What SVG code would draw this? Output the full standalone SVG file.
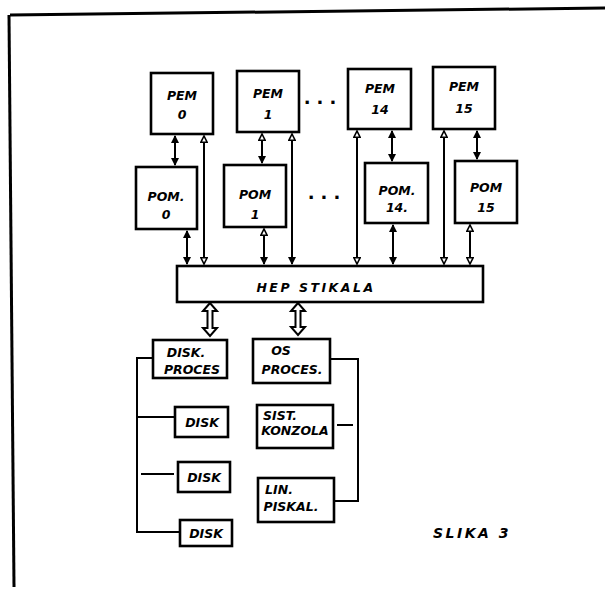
<svg xmlns="http://www.w3.org/2000/svg" width="609" height="591" viewBox="0 0 609 591">
<style>
.bx{fill:#fff;stroke:#000;stroke-width:2.6}
.ln{fill:none;stroke:#000;stroke-width:2}
.fr{fill:none;stroke:#000;stroke-width:3}
.t{font-family:"DejaVu Sans",sans-serif;font-weight:bold;font-style:italic;font-size:12.5px;fill:#000;text-anchor:middle}
.tb{font-family:"DejaVu Sans",sans-serif;font-weight:bold;font-style:italic;font-size:12.5px;fill:#000;text-anchor:middle;letter-spacing:2.5px}
.dt{font-family:"DejaVu Sans",sans-serif;font-weight:bold;font-size:18px;fill:#000;text-anchor:middle;letter-spacing:6px}
.ha{fill:#fff;stroke:#000;stroke-width:2}
</style>
<defs>
<marker id="f" viewBox="0 0 8 8" refX="7" refY="4" markerWidth="4" markerHeight="4" orient="auto-start-reverse" markerUnits="strokeWidth"><path d="M0,0L8,4L0,8z" fill="#000"/></marker>
<marker id="o" viewBox="0 0 10 10" refX="9" refY="5" markerWidth="4" markerHeight="4" orient="auto-start-reverse" markerUnits="strokeWidth"><path d="M1,1L9,5L1,9z" fill="#fff" stroke="#000" stroke-width="2"/></marker>
</defs>
<g id="frame">
<path class="fr" d="M10,15L605,8"/>
<path class="fr" d="M9,15L14,587"/>
</g>
<g id="connectors">
<path class="ln" d="M175,136V165" marker-start="url(#f)" marker-end="url(#f)"/>
<path class="ln" d="M204,136V264" marker-start="url(#o)" marker-end="url(#o)"/>
<path class="ln" d="M187,231V264" marker-start="url(#f)" marker-end="url(#f)"/>
<path class="ln" d="M262,134V163" marker-start="url(#o)" marker-end="url(#f)"/>
<path class="ln" d="M292,134V264" marker-start="url(#o)" marker-end="url(#f)"/>
<path class="ln" d="M264,229V264" marker-start="url(#o)" marker-end="url(#f)"/>
<path class="ln" d="M357,131V264" marker-start="url(#o)" marker-end="url(#o)"/>
<path class="ln" d="M392,131V161" marker-start="url(#f)" marker-end="url(#f)"/>
<path class="ln" d="M393,225V264" marker-start="url(#f)" marker-end="url(#f)"/>
<path class="ln" d="M444,131V264" marker-start="url(#o)" marker-end="url(#o)"/>
<path class="ln" d="M477,131V159" marker-start="url(#f)" marker-end="url(#f)"/>
<path class="ln" d="M470,225V264" marker-start="url(#o)" marker-end="url(#o)"/>
<path class="ha" d="M210,303L203,311H207.5V328H203L210,336L217,328H212.5V311H217Z"/>
<path class="ha" d="M298,303L291,311H295.5V327H291L298,335L305,327H300.5V311H305Z"/>
<path class="ln" d="M153,358H137V532H180"/>
<path class="ln" d="M137,417H175"/>
<path class="ln" d="M141,474H174"/>
<path class="ln" d="M330,359H358V501H334"/>
<path class="ln" d="M337,425H353"/>
</g>
<g id="pem0"><rect class="bx" x="151" y="73" width="62" height="61"/><text class="t" x="182" y="100">PEM</text><text class="t" x="182" y="119">0</text></g>
<g id="pem1"><rect class="bx" x="237" y="71" width="62" height="61"/><text class="t" x="268" y="98">PEM</text><text class="t" x="268" y="119">1</text></g>
<g id="dots1"><text class="dt" x="323" y="104">...</text></g>
<g id="pem14"><rect class="bx" x="348" y="69" width="63" height="60"/><text class="t" x="380" y="93">PEM</text><text class="t" x="380" y="114">14</text></g>
<g id="pem15"><rect class="bx" x="433" y="67" width="62" height="62"/><text class="t" x="464" y="91">PEM</text><text class="t" x="464" y="113">15</text></g>
<g id="pom0"><rect class="bx" x="136" y="167" width="61" height="62"/><text class="t" x="166" y="201">POM.</text><text class="t" x="166" y="219">0</text></g>
<g id="pom1"><rect class="bx" x="224" y="165" width="62" height="62"/><text class="t" x="255" y="199">POM</text><text class="t" x="255" y="219">1</text></g>
<g id="dots2"><text class="dt" x="327" y="199">...</text></g>
<g id="pom14"><rect class="bx" x="365" y="163" width="63" height="60"/><text class="t" x="397" y="195">POM.</text><text class="t" x="397" y="212">14.</text></g>
<g id="pom15"><rect class="bx" x="455" y="161" width="62" height="62"/><text class="t" x="486" y="192">POM</text><text class="t" x="486" y="212">15</text></g>
<g id="hep"><rect class="bx" x="177" y="266" width="306" height="36"/><text class="tb" x="316" y="292">HEP  STIKALA</text></g>
<g id="diskproc"><rect class="bx" x="153" y="340" width="74" height="38"/><text class="t" x="186" y="357">DISK.</text><text class="t" x="192" y="374">PROCES</text></g>
<g id="osproc"><rect class="bx" x="253" y="339" width="77" height="44"/><text class="t" x="281" y="355">OS</text><text class="t" x="292" y="374">PROCES.</text></g>
<g id="disk1"><rect class="bx" x="175" y="407" width="53" height="30"/><text class="t" x="202" y="427">DISK</text></g>
<g id="disk2"><rect class="bx" x="178" y="462" width="52" height="30"/><text class="t" x="204" y="482">DISK</text></g>
<g id="disk3"><rect class="bx" x="180" y="520" width="52" height="26"/><text class="t" x="206" y="538">DISK</text></g>
<g id="sist"><rect class="bx" x="257" y="405" width="76" height="43"/><text class="t" x="280" y="420">SIST.</text><text class="t" x="295" y="435">KONZOLA</text></g>
<g id="lin"><rect class="bx" x="258" y="478" width="76" height="44"/><text class="t" x="279" y="494">LIN.</text><text class="t" x="291" y="511">PISKAL.</text></g>
<text class="tb" x="472" y="538" style="font-size:14px">SLIKA 3</text>
</svg>
